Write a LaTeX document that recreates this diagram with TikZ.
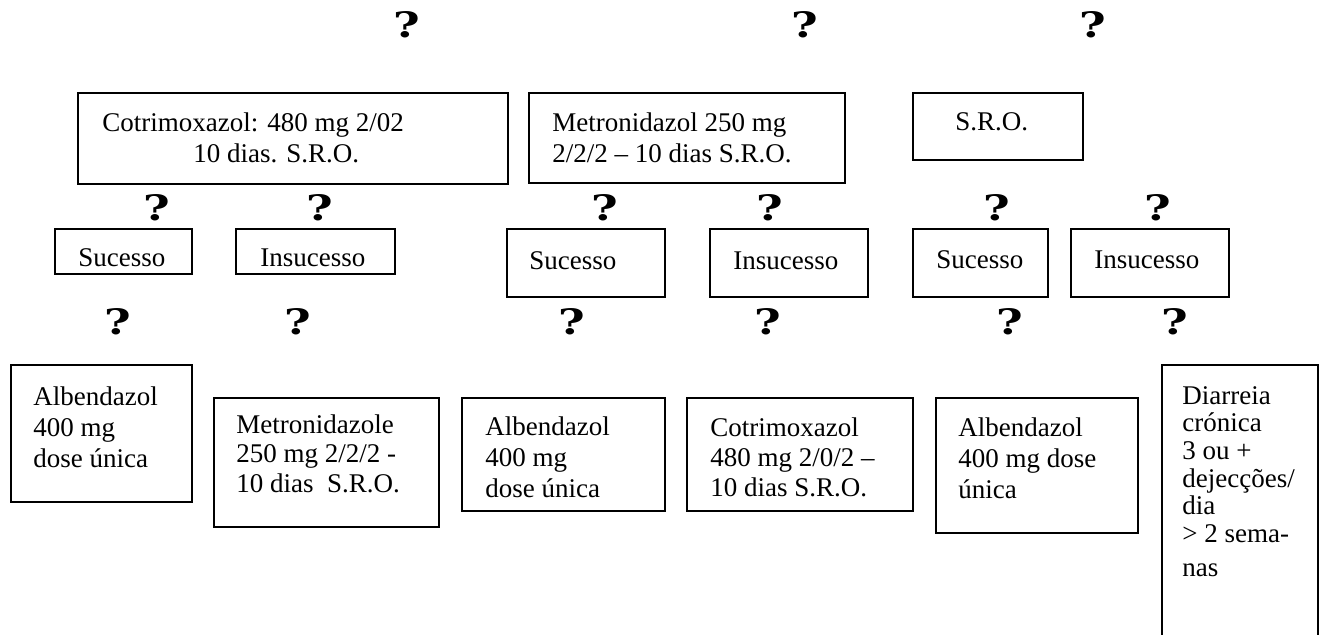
\documentclass[tikz,border=0pt]{standalone}
\usepackage{fontspec}
\setmainfont{Liberation Serif}
\newfontfamily\qfont{DejaVu Serif}[FakeStretch=1.3]
\usetikzlibrary{fit}
\begin{document}
\begin{tikzpicture}[x=0.5pt,y=-0.5pt,
  box/.style={draw, line width=0.9pt, inner sep=0pt},
  txt/.style={font=\fontsize{13.5}{#1}\selectfont, align=left, inner sep=0pt, anchor=north west},
  qm/.style={font=\qfont\bfseries\fontsize{17.5}{17.5}\selectfont, inner sep=0pt}]
\useasboundingbox (0,0) rectangle (1322,635);
\clip (0,0) rectangle (1322,635);
% question marks
\node[qm] (q1) at (407,25) {?};
\node[qm] (q2) at (805,25) {?};
\node[qm] (q3) at (1093,25) {?};
\node[qm] (q4) at (157,208) {?};
\node[qm] (q5) at (320,208) {?};
\node[qm] (q6) at (605,208) {?};
\node[qm] (q7) at (770,208) {?};
\node[qm] (q8) at (997,208) {?};
\node[qm] (q9) at (1158,208) {?};
\node[qm] (q10) at (118,322) {?};
\node[qm] (q11) at (298,322) {?};
\node[qm] (q12) at (572,322) {?};
\node[qm] (q13) at (768,322) {?};
\node[qm] (q14) at (1010,322) {?};
\node[qm] (q15) at (1175,322) {?};
% top row
\node[box, fit={(78,93) (508,184)}] (b1) {};
\node[txt=15.5pt] (t1) at (102,112) {Cotrimoxazol: 480 mg 2/02\\\hspace*{45.5pt}10 dias. S.R.O.};
\node[box, fit={(529,93) (845,183)}] (b2) {};
\node[txt=15.5pt] (t2) at (552,112) {Metronidazol 250 mg\\2/2/2 – 10 dias S.R.O.};
\node[box, fit={(913,93) (1083,160)}] (b3) {};
\node[txt=15.5pt] (t3) at (955,112) {S.R.O.};
% second row
\node[box, fit={(55,229) (192,274)}] (s1) {};
\node[txt=14pt] (ts1) at (78,248) {Sucesso};
\node[box, fit={(236,229) (395,274)}] (i1) {};
\node[txt=14pt] (ti1) at (260,248) {Insucesso};
\node[box, fit={(507,229) (665,297)}] (s2) {};
\node[txt=14pt] (ts2) at (529,251) {Sucesso};
\node[box, fit={(710,229) (868,297)}] (i2) {};
\node[txt=14pt] (ti2) at (733,251) {Insucesso};
\node[box, fit={(913,229) (1048,297)}] (s3) {};
\node[txt=14pt] (ts3) at (936,250) {Sucesso};
\node[box, fit={(1071,229) (1229,297)}] (i3) {};
\node[txt=14pt] (ti3) at (1094,250) {Insucesso};
% third row
\node[box, fit={(11,365) (192,502)}] (a1) {};
\node[txt=15.5pt] (ta1) at (33,386) {Albendazol\\400 mg\\dose única};
\node[box, fit={(214,398) (439,527)}] (m1) {};
\node[txt=14.75pt] (tm1) at (236,414) {Metronidazole\\250 mg 2/2/2 -\\10 dias\ \ S.R.O.};
\node[box, fit={(462,398) (665,511)}] (a2) {};
\node[txt=15.5pt] (ta2) at (485,416) {Albendazol\\400 mg\\dose única};
\node[box, fit={(687,398) (913,511)}] (c1) {};
\node[txt=15pt] (tc1) at (710,417) {Cotrimoxazol\\480 mg 2/0/2 –\\10 dias S.R.O.};
\node[box, fit={(936,398) (1138,533)}] (a3) {};
\node[txt=15.5pt] (ta3) at (958,417) {Albendazol\\400 mg dose\\única};
\node[box, fit={(1162,365) (1318,660)}] (d1) {};
\node[txt=13.8pt] (td1) at (1182,386) {Diarreia\\crónica\\3 ou +\\dejecções/\\dia\\> 2 sema-\\[3.3pt]nas};
\end{tikzpicture}
\end{document}
